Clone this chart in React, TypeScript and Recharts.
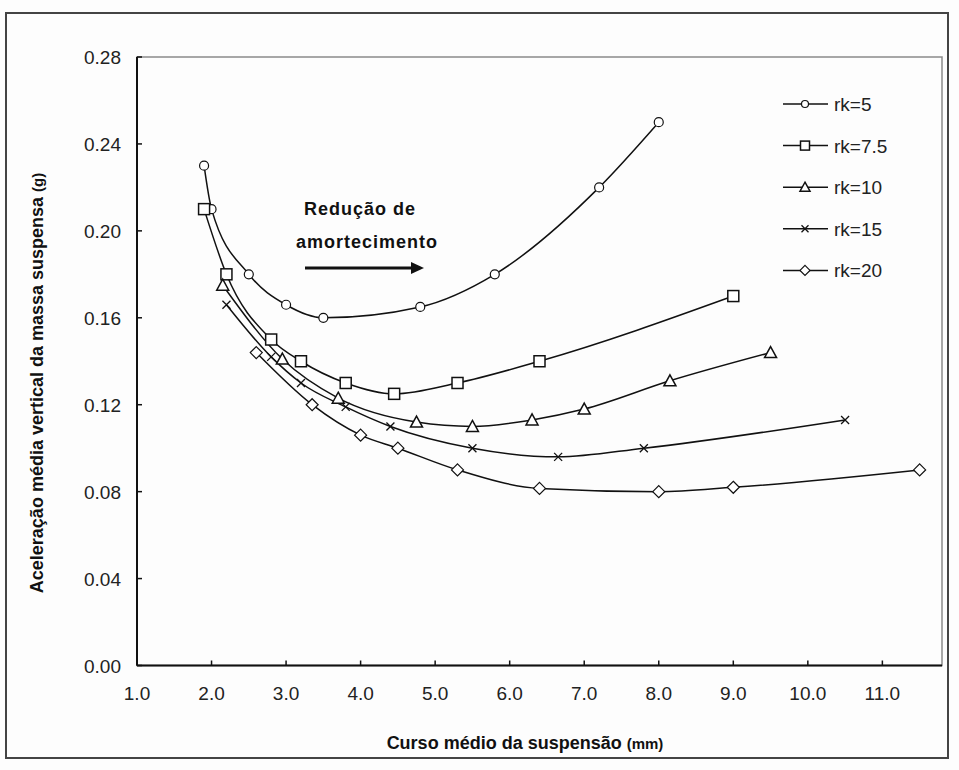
import React from 'react';
import {
  LineChart, Line, XAxis, YAxis, ReferenceArea
} from 'recharts';

// series values
const rk5X = [1.9, 2.0, 2.5, 3.0, 3.5, 4.8, 5.8, 7.2, 8.0];
const rk5Y = [0.23, 0.21, 0.18, 0.166, 0.16, 0.165, 0.18, 0.22, 0.25];

const rk75X = [1.9, 2.2, 2.8, 3.2, 3.8, 4.45, 5.3, 6.4, 9.0];
const rk75Y = [0.21, 0.18, 0.15, 0.14, 0.13, 0.125, 0.13, 0.14, 0.17];

const rk10X = [2.15, 2.95, 3.7, 4.75, 5.5, 6.3, 7.0, 8.15, 9.5];
const rk10Y = [0.175, 0.141, 0.123, 0.112, 0.11, 0.113, 0.118, 0.131, 0.144];

const rk15X = [2.2, 2.8, 3.2, 3.8, 4.4, 5.5, 6.65, 7.8, 10.5];
const rk15Y = [0.166, 0.142, 0.13, 0.119, 0.11, 0.1, 0.096, 0.1, 0.113];

const rk20X = [2.6, 3.35, 4.0, 4.5, 5.3, 6.4, 8.0, 9.0, 11.5];
const rk20Y = [0.144, 0.12, 0.106, 0.1, 0.09, 0.0815, 0.08, 0.082, 0.09];

const xTicks = [1, 2, 3, 4, 5, 6, 7, 8, 9, 10, 11];
const yTicks = [0, 0.04, 0.08, 0.12, 0.16, 0.2, 0.24, 0.28];

const toPoints = (xs: number[], ys: number[]) => xs.map((x, i) => ({ x, y: ys[i] }));

const INK = '#111';
const FONT = '"Liberation Sans", Arial, sans-serif';

const Circle = ({ cx, cy, small }: any) => (
  <circle cx={cx} cy={cy} r={small ? 3.5 : 4.5} fill="#fff" stroke={INK} strokeWidth={1.2} />
);
const Square = ({ cx, cy, small }: any) => {
  const h = small ? 4.5 : 5.5;
  return <rect x={cx - h} y={cy - h} width={h * 2} height={h * 2} fill="#fff" stroke={INK} strokeWidth={1.5} />;
};
const Triangle = ({ cx, cy, small }: any) => {
  const h = small ? 5 : 6;
  return <path d={`M${cx},${cy - h} L${cx + h},${cy + h - 1} L${cx - h},${cy + h - 1} Z`} fill="#fff" stroke={INK} strokeWidth={1.5} />;
};
const Cross = ({ cx, cy, small }: any) => {
  const h = small ? 3.5 : 4;
  return <path d={`M${cx - h},${cy - h} L${cx + h},${cy + h} M${cx + h},${cy - h} L${cx - h},${cy + h}`} stroke={INK} strokeWidth={1.3} />;
};
const Diamond = ({ cx, cy, small }: any) => {
  const h = small ? 5 : 6;
  return <path d={`M${cx},${cy - h} L${cx + h},${cy} L${cx},${cy + h} L${cx - h},${cy} Z`} fill="#fff" stroke={INK} strokeWidth={1.2} />;
};

const series = [
  { name: 'rk=5', data: toPoints(rk5X, rk5Y), Shape: Circle },
  { name: 'rk=7.5', data: toPoints(rk75X, rk75Y), Shape: Square },
  { name: 'rk=10', data: toPoints(rk10X, rk10Y), Shape: Triangle },
  { name: 'rk=15', data: toPoints(rk15X, rk15Y), Shape: Cross },
  { name: 'rk=20', data: toPoints(rk20X, rk20Y), Shape: Diamond },
];

const XTick = ({ x, y, payload }: any) => (
  <g>
    <line x1={x} x2={x} y1={y} y2={y - 5} stroke={INK} strokeWidth={1.5} />
    <text x={x} y={y + 34} textAnchor="middle" fontSize={19} fontFamily={FONT} fill="#222">
      {Number(payload.value).toFixed(1)}
    </text>
  </g>
);

const YTick = ({ x, y, payload }: any) => (
  <g>
    <line x1={x} x2={x + 5} y1={y} y2={y} stroke={INK} strokeWidth={1.5} />
    <text x={x - 16} y={y + 7} textAnchor="end" fontSize={19} fontFamily={FONT} fill="#222">
      {Number(payload.value).toFixed(2)}
    </text>
  </g>
);

export default function App() {
  return (
    <div style={{ position: 'absolute', left: 0, top: 0, width: 959, height: 770, background: '#fdfdfd' }}>
      <div style={{
        position: 'absolute', left: 5, top: 12, width: 944, height: 747,
        border: '2px solid #444', boxSizing: 'border-box'
      }} />
      <LineChart
        width={959}
        height={770}
        margin={{ top: 57, right: 17, bottom: 44.5, left: 0 }}
        style={{ position: 'absolute', left: 0, top: 0 }}
      >
        <ReferenceArea x1={1} x2={11.8} y1={0} y2={0.28} fill="none" stroke="#8a8a8a" strokeWidth={1.5} />
        <XAxis
          type="number"
          dataKey="x"
          domain={[1, 11.8]}
          ticks={xTicks}
          allowDataOverflow
          height={60}
          tickSize={0}
          tickMargin={0}
          tick={<XTick />}
          axisLine={{ stroke: INK, strokeWidth: 2 }}
          tickLine={false}
        />
        <YAxis
          type="number"
          dataKey="y"
          domain={[0, 0.28]}
          ticks={yTicks}
          width={137}
          tickSize={0}
          tickMargin={0}
          tick={<YTick />}
          axisLine={{ stroke: INK, strokeWidth: 2 }}
          tickLine={false}
        />
        {series.map(s => (
          <Line
            key={s.name}
            data={s.data}
            dataKey="y"
            name={s.name}
            type="monotone"
            stroke={INK}
            strokeWidth={1.5}
            dot={<s.Shape />}
            activeDot={false}
            isAnimationActive={false}
          />
        ))}
      </LineChart>
      <svg width={959} height={770} style={{ position: 'absolute', left: 0, top: 0, pointerEvents: 'none' }}>
        {/* legend */}
        {series.map((s, i) => {
          const cy = 104 + i * 41.6;
          const { Shape } = s;
          return (
            <g key={s.name}>
              <line x1={783} x2={828} y1={cy} y2={cy} stroke={INK} strokeWidth={1.5} />
              <Shape cx={805} cy={cy} small />
              <text x={834} y={cy + 7} fontSize={19} fontFamily={FONT} fill="#222">{s.name}</text>
            </g>
          );
        })}
        <text
          transform="translate(43,383) rotate(-90)"
          textAnchor="middle"
          fontSize={18}
          fontWeight="bold"
          fontFamily={FONT}
          fill="#111"
        >
          Aceleração média vertical da massa suspensa <tspan fontSize={15}>(g)</tspan>
        </text>
        <text x={525} y={749} textAnchor="middle" fontSize={18} fontWeight="bold" fontFamily={FONT} fill="#111">
          Curso médio da suspensão  <tspan fontSize={15}>(mm)</tspan>
        </text>
        <text x={360} y={215} textAnchor="middle" fontSize={18} fontWeight="bold" letterSpacing={1} fontFamily={FONT} fill="#111">
          Redução de
        </text>
        <text x={367} y={248} textAnchor="middle" fontSize={18} fontWeight="bold" letterSpacing={1} fontFamily={FONT} fill="#111">
          amortecimento
        </text>
        <line x1={305} x2={413} y1={268} y2={268} stroke="#111" strokeWidth={3} />
        <path d="M411,262 L424,268 L411,274 Z" fill="#111" />
      </svg>
    </div>
  );
}
